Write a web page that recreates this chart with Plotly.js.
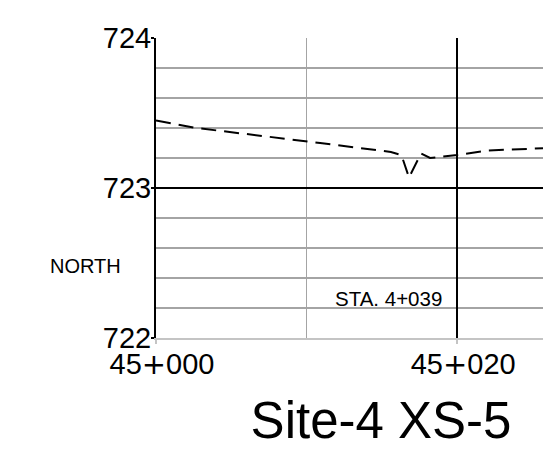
<!DOCTYPE html>
<html>
<head>
<meta charset="utf-8">
<script src="https://cdn.plot.ly/plotly-3.0.1.min.js"></script>
<style>html,body{margin:0;padding:0;background:#fff;overflow:hidden;}</style>
</head>
<body>
<div id="chart" style="width:543px;height:453px;"></div>
<script>
// Ground profile (station offset, elevation)
const stationX = [45000, 45002.7, 45010.9, 45015.6, 45016.3, 45016.8, 45017.6, 45018.2, 45020, 45022, 45025.7];
const elevationY = [723.45, 723.40, 723.30, 723.24, 723.22, 723.07, 723.23, 723.20, 723.22, 723.25, 723.265];
const xTickVals = [45000, 45020];
const xTickText = ['45<span style="font-family:DejaVu Sans">+</span>000', '45<span style="font-family:DejaVu Sans">+</span>020'];
const yTickVals = [722, 723, 724];
const yTickText = ['722', '723', '724'];
const chartTitle = 'Site-4 XS-5';
const sideLabel = 'NORTH';
const stationLabel = 'STA. 4+039';

const FONT = 'Liberation Sans, Arial, Helvetica, sans-serif';

const trace = {
  x: stationX,
  y: elevationY,
  type: 'scatter',
  mode: 'lines',
  line: {color: '#000', width: 2, dash: '15px,8px'},
  hoverinfo: 'skip',
  showlegend: false
};

const layout = {
  width: 543,
  height: 453,
  margin: {l: 156, r: 0, t: 38, b: 115},
  paper_bgcolor: '#fff',
  plot_bgcolor: '#fff',
  font: {family: FONT, color: '#000'},
  showlegend: false,
  title: {
    text: chartTitle,
    font: {family: FONT, size: 51, color: '#000'},
    xref: 'container', yref: 'container',
    x: 381 / 543, xanchor: 'center',
    y: 1 - 420 / 453, yanchor: 'middle'
  },
  xaxis: {
    range: [45000, 45025.7],
    tickmode: 'array',
    tickvals: xTickVals,
    ticktext: xTickText,
    tickfont: {family: FONT, size: 29, color: '#000'},
    ticks: 'outside', ticklen: 4, tickwidth: 1.5, tickcolor: '#c4c4c4',
    ticklabelstandoff: -5,
    ticklabelshift: 6,
    showline: true, linecolor: '#c4c4c4', linewidth: 2,
    showgrid: true, gridcolor: '#000', gridwidth: 1.6,
    minor: {dtick: 10, tick0: 45000, showgrid: true, gridcolor: '#a4a4a4', gridwidth: 1.5, ticks: ''},
    zeroline: false, fixedrange: true
  },
  yaxis: {
    range: [722, 724],
    tickmode: 'array',
    tickvals: yTickVals,
    ticktext: yTickText,
    tickfont: {family: FONT, size: 29, color: '#000'},
    ticks: 'outside', ticklen: 3, tickwidth: 1.5, tickcolor: '#000',
    ticklabelstandoff: -6,
    showline: true, linecolor: '#000', linewidth: 2,
    showgrid: true, gridcolor: '#000', gridwidth: 1.6,
    minor: {dtick: 0.2, tick0: 722, showgrid: true, gridcolor: '#a4a4a4', gridwidth: 1.5, ticks: ''},
    zeroline: false, fixedrange: true
  },
  annotations: [
    {text: sideLabel, xref: 'paper', yref: 'paper', x: (85 - 156) / 387, y: (338 - 266) / 300,
     xanchor: 'center', yanchor: 'middle', showarrow: false, font: {family: FONT, size: 20, color: '#000'}},
    {text: stationLabel, xref: 'paper', yref: 'paper', x: (388 - 156) / 387, y: (338 - 298) / 300,
     xanchor: 'center', yanchor: 'middle', showarrow: false, font: {family: FONT, size: 20.5, color: '#000'}}
  ]
};

Plotly.newPlot('chart', [trace], layout, {staticPlot: true, displayModeBar: false});
</script>
</body>
</html>
